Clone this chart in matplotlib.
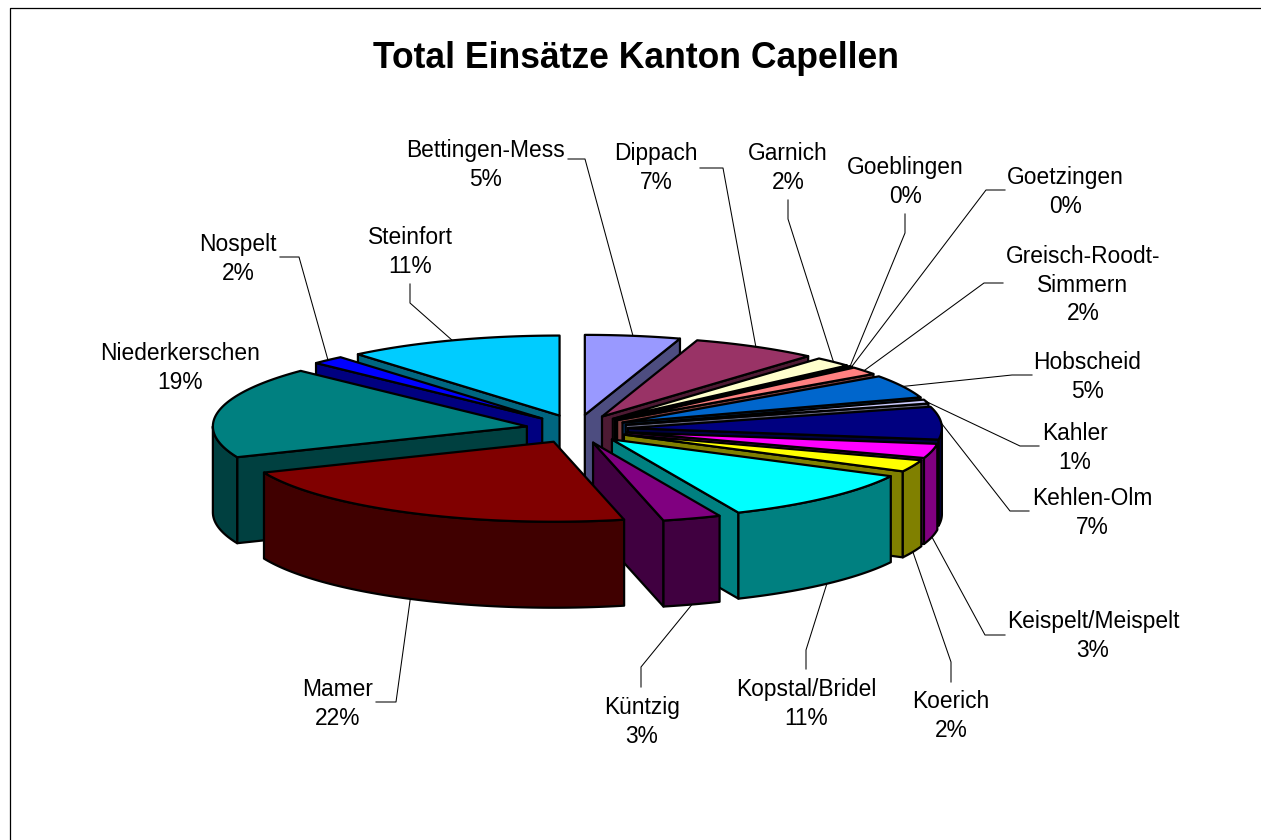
import numpy as np
import matplotlib
matplotlib.use('Agg')
import matplotlib.pyplot as plt
from matplotlib.colors import to_rgb
from matplotlib.patches import Polygon

title = 'Total Einsätze Kanton Capellen'
names = ['Bettingen-Mess', 'Dippach', 'Garnich', 'Goeblingen', 'Goetzingen',
         'Greisch-Roodt-\nSimmern', 'Hobscheid', 'Kahler', 'Kehlen-Olm',
         'Keispelt/Meispelt', 'Koerich', 'Kopstal/Bridel', 'Küntzig', 'Mamer',
         'Niederkerschen', 'Nospelt', 'Steinfort']
shares = [4.9, 6.5, 2.0, 0.1, 0.1, 1.6, 4.7, 0.8, 6.6, 2.9, 2.4, 10.8, 3.0,
          22.3, 18.5, 1.7, 11.1]
shown_pct = [5, 7, 2, 0, 0, 2, 5, 1, 7, 3, 2, 11, 3, 22, 19, 2, 11]
colors = ['#9999FF', '#993366', '#FFFFCC', '#CCFFFF', '#660066', '#FF8080',
          '#0066CC', '#CCCCFF', '#000080', '#FF00FF', '#FFFF00', '#00FFFF',
          '#800080', '#800000', '#008080', '#0000FF', '#00CCFF']

# layout, in pixels of the 1261x840 picture
label_pos = [(485, 165), (656, 168), (788, 168), (905, 182), (1065, 192),
             (1083, 285), (1087, 377), (1075, 448), (1092, 513), (1093, 636),
             (951, 716), (806, 704), (642, 722), (338, 704), (180, 368),
             (238, 259), (410, 252)]
# leader start and elbow, None = no leader
leaders = [((568, 159), (585, 159)), ((700, 168), (723, 168)),
           ((788, 200), (788, 219)), ((905, 214), (905, 233)),
           ((1005, 190), (986, 190)), ((1003, 283), (984, 283)),
           ((1032, 375), (1012, 375)), ((1039, 446), (1020, 446)),
           ((1029, 511), (1010, 511)), ((1005, 635), (985, 635)),
           ((951, 682), (951, 662)), ((806, 669), (806, 650)),
           ((641, 687), (641, 667)), ((376, 702), (396, 702)), None,
           ((280, 257), (299, 257)), ((410, 284), (410, 303))]

cx, cy = 577, 429
rx, ry = 314, 80
depth = 86
explode_x, explode_y = 51, 14.3
edge = 1.6

fig = plt.figure(figsize=(12.61, 8.4), dpi=100)
ax = fig.add_axes([0, 0, 1, 1])
ax.set_xlim(0, 1261)
ax.set_ylim(840, 0)
ax.axis('off')

ax.plot([1261, 9.5, 9.5], [7.5, 7.5, 840], color='black', lw=0.9, zorder=1)

ends = np.cumsum(shares) / np.sum(shares) * 360
starts = np.concatenate([[0], ends[:-1]])
mids = (starts + ends) / 2


def apex(mid):
    a = np.radians(mid)
    return cx + explode_x * np.sin(a), cy - explode_y * np.cos(a)


def rim(mid, deg):
    a = np.radians(deg)
    x0, y0 = apex(mid)
    return x0 + rx * np.sin(a), y0 - ry * np.cos(a)


def arc(mid, d0, d1):
    pts = [rim(mid, d) for d in np.linspace(d0, d1, max(int(abs(d1 - d0)) + 2, 2))]
    return pts


def add_poly(pts, color, z):
    ax.add_patch(Polygon(pts, closed=True, facecolor=color, edgecolor='black',
                         lw=edge, joinstyle='round', zorder=z))


def radial_wall(mid, deg, color, z):
    x0, y0 = apex(mid)
    x1, y1 = rim(mid, deg)
    add_poly([(x0, y0), (x1, y1), (x1, y1 + depth), (x0, y0 + depth)], color, z)


# back to front: right side going clockwise, left side going anticlockwise,
# and the slice that holds the front point comes last
right = [i for i in range(len(shares)) if ends[i] <= 180]
left = [i for i in range(len(shares)) if starts[i] >= 180][::-1]
front = [i for i in range(len(shares)) if starts[i] < 180 < ends[i]]
order = right + left + front

z = 3
for i in order:
    top = to_rgb(colors[i])
    side = tuple(c * 0.5 for c in top)
    if np.sin(np.radians(starts[i])) < 0:
        radial_wall(mids[i], starts[i], side, z)
    if np.sin(np.radians(ends[i])) > 0:
        radial_wall(mids[i], ends[i], side, z)
    lo, hi = max(starts[i], 90), min(ends[i], 270)
    if lo < hi:
        outer = arc(mids[i], lo, hi)
        add_poly(outer + [(x, y + depth) for x, y in outer[::-1]], side, z)
    add_poly([apex(mids[i])] + arc(mids[i], starts[i], ends[i]), top, z)
    z += 1

for i, name in enumerate(names):
    ax.text(label_pos[i][0], label_pos[i][1], f'{name}\n{shown_pct[i]}%',
            ha='center', va='center', family='Liberation Sans', fontsize=16.4,
            linespacing=1.28, color='black', zorder=50)
    if leaders[i] is None:
        continue
    ex, ey = rim(mids[i], mids[i])
    if np.cos(np.radians(mids[i])) < 0:
        ey += depth
    (x0, y0), (x1, y1) = leaders[i]
    ax.plot([x0, x1, ex], [y0, y1, ey], color='black', lw=0.75, zorder=2)

ax.text(636, 58, title, ha='center', va='center', family='Liberation Sans',
        fontweight='bold', fontsize=25.6, color='black')

fig.savefig('out.png', dpi=100)
